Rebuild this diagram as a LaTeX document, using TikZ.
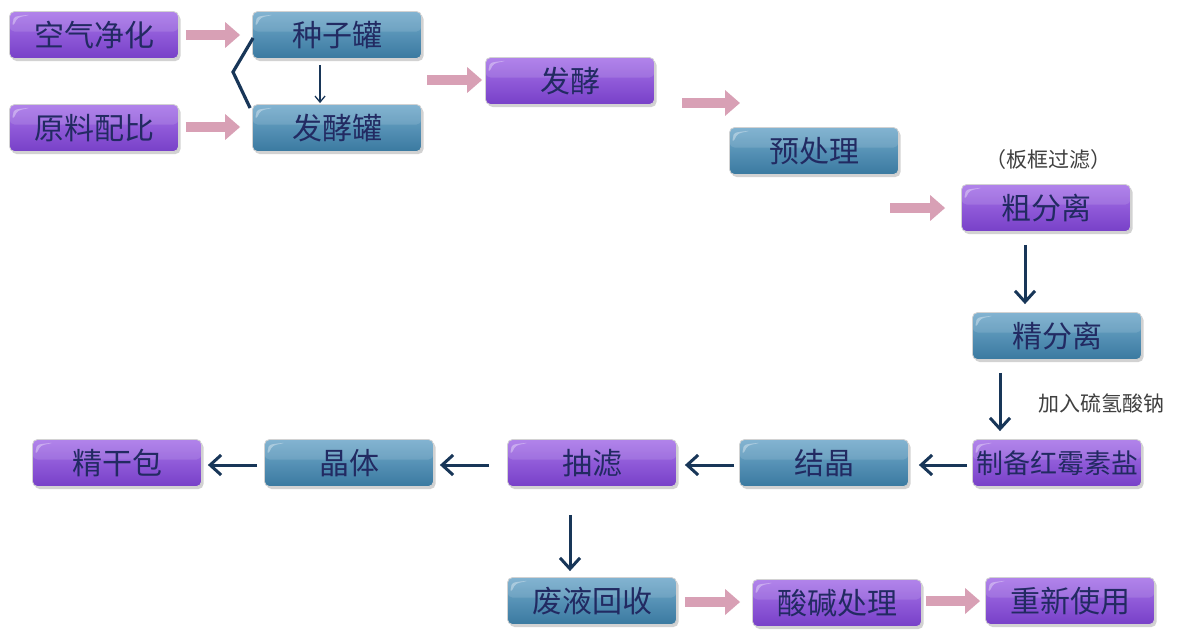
\documentclass[tikz,border=0pt]{standalone}
\usepackage{fontspec}
\newfontfamily\cjk{Noto Sans CJK SC}
\usetikzlibrary{arrows.meta,shadows}
\definecolor{purpT}{HTML}{A673E8}
\definecolor{purpB}{HTML}{7840C8}
\definecolor{bluT}{HTML}{72AACB}
\definecolor{bluB}{HTML}{3A79A0}
\definecolor{textc}{HTML}{222A62}
\definecolor{pinkc}{HTML}{D8A0B5}
\definecolor{navyc}{HTML}{183658}
\tikzset{
  box/.style={rounded corners=5pt, minimum width=169pt, minimum height=47pt, inner sep=0pt,
    font=\cjk\fontsize{30}{32}\selectfont, text=textc, draw=gray!35, line width=0.8pt,
    drop shadow={opacity=0.35, shadow xshift=2pt, shadow yshift=-2.5pt},
    path picture={
      \fill[white,opacity=0.12] (path picture bounding box.north west) rectangle ([yshift=-20pt]path picture bounding box.north east);
      \fill[white,opacity=0.35] ([xshift=3pt,yshift=-16pt]path picture bounding box.north west)
        .. controls ([xshift=4pt,yshift=-5pt]path picture bounding box.north west) .. ([xshift=22pt,yshift=-3pt]path picture bounding box.north west)
        .. controls ([xshift=8pt,yshift=-6pt]path picture bounding box.north west) .. cycle;
    }},
  purp/.style={box, top color=purpT, bottom color=purpB},
  blu/.style={box, top color=bluT, bottom color=bluB},
  pinkarr/.style={draw=pinkc, line width=10pt, -{Triangle[length=15pt,width=25pt]}, color=pinkc},
  navyarr/.style={draw=navyc, line width=3pt, -{Straight Barb[length=11pt,width=20pt,line width=3pt]}},
  thinarr/.style={draw=navyc, line width=1.3pt, -{Straight Barb[length=6pt,width=10pt,line width=1.3pt]}},
  note/.style={font=\cjk\fontsize{21}{24}\selectfont, text=black!75}
}
\begin{document}
\begin{tikzpicture}[x=1pt,y=-1pt]
\useasboundingbox[fill=white] (0,0) rectangle (1180,629);

\node[purp] (kq) at (94,35) {空气净化};
\node[purp] (yl) at (94,128) {原料配比};
\node[blu] (zz) at (337,35) {种子罐};
\node[blu] (fjg) at (337,128) {发酵罐};
\node[purp] (fj) at (570,81) {发酵};
\node[blu] (ycl) at (814,151) {预处理};
\node[purp] (cfl) at (1046,208) {粗分离};
\node[note] (bk) at (1048,160) {（板框过滤）};
\node[note] (jr) at (1101,403) {加入硫氢酸钠};
\node[blu] (jfl) at (1057,336) {精分离};
\node[purp, font=\cjk\fontsize{27}{30}\selectfont] (zb) at (1057,463) {制备红霉素盐};
\node[blu] (jj) at (824,463) {结晶};
\node[purp] (cl) at (592,463) {抽滤};
\node[blu] (jt) at (349,463) {晶体};
\node[purp] (jgb) at (117,463) {精干包};
\node[blu] (fy) at (592,601) {废液回收};
\node[purp] (sj) at (837,603) {酸碱处理};
\node[purp] (cx) at (1070,601) {重新使用};

% free coordinates
\coordinate (c1) at (427,80);
\coordinate (p1) at (682,103);
\coordinate (p2) at (740,103);
\coordinate (p3) at (890,208);
\coordinate (bv) at (233,72);

% pink arrows
\draw[pinkarr] ([xshift=7pt]kq.east) -- ([xshift=-12pt]zz.west);
\draw[pinkarr] ([xshift=7pt,yshift=1pt]yl.east) -- ([xshift=-12pt,yshift=1pt]fjg.west);
\draw[pinkarr] (c1) -- ([xshift=-3pt,yshift=1pt]fj.west);
\draw[pinkarr] (p1) -- (p2);
\draw[pinkarr] (p3) -- ([xshift=-16pt]cfl.west);
\draw[pinkarr] ([xshift=8pt,yshift=-1pt]fy.east) -- ([xshift=-12pt,yshift=1pt]sj.west);
\draw[pinkarr] ([xshift=4pt,yshift=2pt]sj.east) -- ([xshift=-5pt]cx.west);

% brace and small arrow
\draw[navyc, line width=3.2pt, line join=miter] ([xshift=1pt,yshift=-3pt]zz.west) -- (bv) -- ([xshift=-2pt,yshift=20pt]fjg.west);
\draw[thinarr] ([xshift=-17pt,yshift=-6pt]zz.south) -- ([xshift=-17pt,yshift=1pt]fjg.north);

% navy arrows
\draw[navyarr] ([xshift=-21pt,yshift=-13pt]cfl.south) -- ([xshift=-32pt,yshift=8pt]jfl.north);
\draw[navyarr] ([xshift=-57pt,yshift=-13pt]jfl.south) -- ([xshift=-57pt,yshift=8pt]zb.north);
\draw[navyarr] ([xshift=-5pt,yshift=-2pt]zb.west) -- ([xshift=10pt,yshift=-2pt]jj.east);
\draw[navyarr] ([xshift=-5pt,yshift=-2pt]jj.west) -- ([xshift=8pt,yshift=-2pt]cl.east);
\draw[navyarr] ([xshift=-18pt,yshift=-2pt]cl.west) -- ([xshift=6pt,yshift=-2pt]jt.east);
\draw[navyarr] ([xshift=-7pt,yshift=-2pt]jt.west) -- ([xshift=6pt,yshift=-2pt]jgb.east);
\draw[navyarr] ([xshift=-22pt,yshift=-28pt]cl.south) -- ([xshift=-22pt,yshift=6pt]fy.north);
\end{tikzpicture}
\end{document}
